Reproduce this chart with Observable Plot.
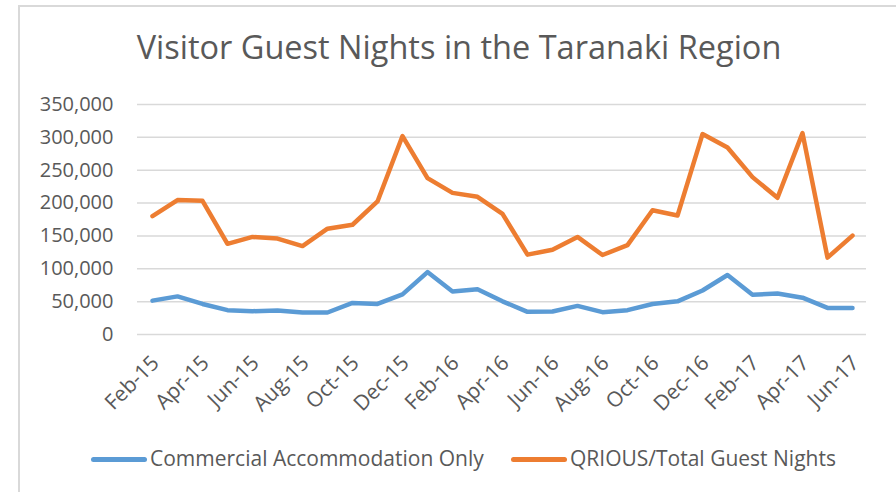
<!DOCTYPE html>
<html><head><meta charset="utf-8">
<script src="https://cdn.jsdelivr.net/npm/d3@7"></script>
<script src="https://cdn.jsdelivr.net/npm/@observablehq/plot@0.6"></script>
<style>
body{margin:0;background:#fff;}
#wrap{position:relative;width:896px;height:492px;overflow:hidden;font-family:"Open Sans",sans-serif;color:#595959;background:#fff;}
#frame{position:absolute;left:18px;top:5px;width:900px;height:520px;border-left:2px solid #d9d9d9;border-top:2px solid #d9d9d9;}
#title{position:absolute;left:0;width:918px;top:25px;text-align:center;font-size:32.5px;line-height:44px;white-space:nowrap;}
#chart{position:absolute;left:0;top:0;}
.sw{position:absolute;height:5px;width:56px;border-radius:3px;top:456.5px;}
.lt{position:absolute;top:443px;font-size:21px;line-height:30px;white-space:nowrap;}
</style></head>
<body>
<div id="wrap">
  <div id="frame"></div>
  <div id="chart"></div>
  <div id="title">Visitor Guest Nights in the Taranaki Region</div>
  <div id="legend"></div>
</div>
<script>
const months = ["Feb-15","Mar-15","Apr-15","May-15","Jun-15","Jul-15","Aug-15","Sep-15","Oct-15","Nov-15","Dec-15","Jan-16",
  "Feb-16","Mar-16","Apr-16","May-16","Jun-16","Jul-16","Aug-16","Sep-16","Oct-16","Nov-16","Dec-16","Jan-17",
  "Feb-17","Mar-17","Apr-17","May-17","Jun-17"];
const commercial = [51500, 58000, 46500, 37000, 35500, 36500, 33500, 33500, 48000, 46500, 61000, 95000,
  65500, 69000, 50500, 34500, 35000, 43500, 34000, 37000, 46500, 50500, 67000, 90500,
  60500, 62500, 56000, 40500, 40500];
const qrious = [180000, 204500, 203500, 138000, 148500, 146000, 134500, 161000, 167000, 202500, 302000, 238000,
  215500, 209500, 183500, 121500, 129000, 148500, 121000, 136000, 189000, 181000, 305000, 284500,
  239500, 208000, 306500, 117000, 150500];
const xTickLabels = ["Feb-15","Apr-15","Jun-15","Aug-15","Oct-15","Dec-15","Feb-16","Apr-16","Jun-16","Aug-16","Oct-16","Dec-16","Feb-17","Apr-17","Jun-17"];
const yTicks = [0, 50000, 100000, 150000, 200000, 250000, 300000, 350000];
const seriesNames = ["Commercial Accommodation Only", "QRIOUS/Total Guest Nights"];
const seriesColors = ["#5B9BD5", "#ED7D31"];

const rowsC = months.map((m, i) => ({month: m, value: commercial[i]}));
const rowsQ = months.map((m, i) => ({month: m, value: qrious[i]}));

const chart = Plot.plot({
  width: 896,
  height: 430,
  marginTop: 104,
  marginBottom: 96,
  marginLeft: 137,
  marginRight: 30,
  style: {fontFamily: "'Open Sans', sans-serif", fontSize: "20px", color: "#595959", background: "transparent", overflow: "visible"},
  x: {type: "point", domain: months, padding: 0.5, label: null},
  y: {domain: [0, 350000], label: null},
  marks: [
    Plot.gridY(yTicks, {stroke: "#d9d9d9", strokeOpacity: 1, strokeWidth: 1.5}),
    Plot.axisY(yTicks, {tickSize: 0, tickPadding: 24, tickFormat: d3.format(","), label: null, fontSize: 20}),
    Plot.axisX(xTickLabels, {tickSize: 0, tickRotate: -45, tickPadding: 25, dx: 3, label: null, fontSize: 21}),
    Plot.lineY(rowsC, {x: "month", y: "value", stroke: seriesColors[0], strokeWidth: 4.5, strokeLinejoin: "round", strokeLinecap: "round"}),
    Plot.lineY(rowsQ, {x: "month", y: "value", stroke: seriesColors[1], strokeWidth: 4.5, strokeLinejoin: "round", strokeLinecap: "round"})
  ]
});
document.getElementById("chart").appendChild(chart);

const legend = document.getElementById("legend");
const swLeft = [91, 511];
seriesNames.forEach((name, i) => {
  const sw = document.createElement("div");
  sw.className = "sw";
  sw.style.left = swLeft[i] + "px";
  sw.style.background = seriesColors[i];
  legend.appendChild(sw);
  const t = document.createElement("div");
  t.className = "lt";
  t.style.left = (swLeft[i] + 59) + "px";
  t.textContent = name;
  legend.appendChild(t);
});
</script>
</body></html>
